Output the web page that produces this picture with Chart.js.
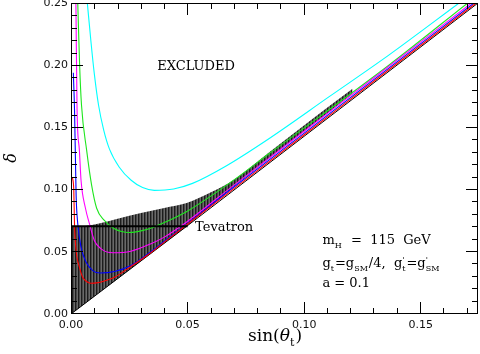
<!DOCTYPE html>
<html>
<head>
<meta charset="utf-8">
<script src="https://cdn.jsdelivr.net/npm/chart.js@4.4.0/dist/chart.umd.min.js"></script>
<style>
  body { margin: 0; background: #fff; }
  canvas { display: block; }
</style>
</head>
<body>
<canvas id="myChart" width="480" height="354"></canvas>
<script>
// axes: sin(theta_t) across, delta up
const xTicks = [0, 0.05, 0.1, 0.15];
const xMinor = [0.01, 0.02, 0.03, 0.04, 0.06, 0.07, 0.08, 0.09, 0.11, 0.12, 0.13, 0.14, 0.16, 0.17];
const yTicks = [0, 0.05, 0.1, 0.15, 0.2, 0.25];
const yMinor = [0.01, 0.02, 0.03, 0.04, 0.06, 0.07, 0.08, 0.09, 0.11, 0.12, 0.13, 0.14,
  0.16, 0.17, 0.18, 0.19, 0.21, 0.22, 0.23, 0.24];

// curves
const cyanS = [0.0070, 0.0085, 0.0100, 0.0118, 0.0140, 0.0165, 0.0207, 0.0258, 0.0307, 0.0357, 0.0440, 0.0521, 0.0665, 0.0850, 0.1107, 0.1364, 0.1664];
const cyanD = [0.250, 0.220, 0.193, 0.168, 0.148, 0.1325, 0.1180, 0.1075, 0.1016, 0.0994, 0.1005, 0.1050, 0.1190, 0.1411, 0.1747, 0.2083, 0.250];

const greenS = [0.0029, 0.0037, 0.0045, 0.0067, 0.0088, 0.0110, 0.0143, 0.0186, 0.0250, 0.0300, 0.0357, 0.0400, 0.0493, 0.0693, 0.0850, 0.1364, 0.1701];
const greenD = [0.250, 0.200, 0.168, 0.1317, 0.1040, 0.0850, 0.0752, 0.0685, 0.0655, 0.0668, 0.0700, 0.0735, 0.0820, 0.1070, 0.1290, 0.2002, 0.250];

const magentaS = [0.0021, 0.0026, 0.0036, 0.0043, 0.0062, 0.0079, 0.0100, 0.0129, 0.0179, 0.0257, 0.0343, 0.0400, 0.0496, 0.0700, 0.1000, 0.1300, 0.1717];
const magentaD = [0.250, 0.164, 0.1317, 0.1075, 0.0850, 0.0726, 0.0591, 0.0524, 0.0492, 0.0505, 0.0565, 0.0618, 0.0740, 0.1038, 0.1469, 0.1901, 0.250];

const blueS = [0.0010, 0.0015, 0.0019, 0.0022, 0.0029, 0.0043, 0.0065, 0.0093, 0.0125, 0.0186, 0.0257, 0.0329, 0.0400, 0.0496, 0.0700, 0.1000, 0.1300, 0.1728];
const blueD = [0.194, 0.165, 0.125, 0.095, 0.0726, 0.0537, 0.0416, 0.0349, 0.0329, 0.0341, 0.0390, 0.0482, 0.0585, 0.0722, 0.1023, 0.1454, 0.1886, 0.250];

const redS = [0.0006, 0.0012, 0.0015, 0.0022, 0.0036, 0.0050, 0.0072, 0.0086, 0.0110, 0.0129, 0.0186, 0.0257, 0.0329, 0.0400, 0.0496, 0.0700, 0.1000, 0.1300, 0.1737];
const redD = [0.110, 0.0994, 0.0726, 0.0510, 0.0376, 0.0295, 0.0255, 0.0247, 0.0250, 0.0257, 0.0295, 0.0382, 0.0474, 0.0578, 0.0717, 0.1010, 0.1441, 0.1873, 0.250];

// lower bound line and Tevatron limit
const lineS = [0, 0.0496, 0.1745];
const lineD = [0, 0.0705, 0.25];
const tevS = [0, 0.050];
const tevD = [0.0705, 0.0705];

// hatched allowed band
const bandS = [0, 0.006, 0.012, 0.02, 0.03, 0.04, 0.0496, 0.06, 0.07, 0.085, 0.10, 0.1207];
const bandTop = [0.0705, 0.0708, 0.0728, 0.0766, 0.0812, 0.0852, 0.0892, 0.0978, 0.1082, 0.1300, 0.1518, 0.1810];
const bandBottom = [0, 0.0085, 0.0171, 0.0284, 0.0426, 0.0569, 0.0705, 0.0870, 0.1028, 0.1250, 0.1470, 0.1772];

function pts(xs, ys) {
  return xs.map((x, i) => ({ x: x, y: ys[i] }));
}

const canvas = document.getElementById("myChart");
const ctx = canvas.getContext("2d");

function makeHatch() {
  const c = document.createElement("canvas");
  c.width = 3;
  c.height = 4;
  const g = c.getContext("2d");
  g.fillStyle = "#484848";
  g.fillRect(0, 0, 3, 4);
  g.fillStyle = "#1c1c1c";
  g.fillRect(0, 0, 1, 4);
  g.fillStyle = "#6a6a6a";
  g.fillRect(2, 0, 1, 4);
  return ctx.createPattern(c, "repeat");
}

function curve(xs, ys, color) {
  return {
    data: pts(xs, ys),
    borderColor: color,
    borderWidth: 1.1,
    fill: false,
    cubicInterpolationMode: "monotone",
    order: 1,
  };
}

const SERIF = "'DejaVu Serif', serif";

function partsWidth(c, parts, size) {
  let w = 0;
  for (const p of parts) {
    c.font = (p.it ? "italic " : "") + size + "px " + SERIF;
    w += c.measureText(p.t).width;
    const small = Math.round(size * 0.62);
    c.font = small + "px " + SERIF;
    let e = 0;
    if (p.sup) e = c.measureText(p.sup).width;
    if (p.sub) e = Math.max(e, c.measureText(p.sub).width);
    if (e) w += e + 1;
  }
  return w;
}

function drawParts(c, x, y, parts, size) {
  for (const p of parts) {
    c.font = (p.it ? "italic " : "") + size + "px " + SERIF;
    c.fillText(p.t, x, y);
    x += c.measureText(p.t).width;
    const small = Math.round(size * 0.62);
    c.font = small + "px " + SERIF;
    let e = 0;
    if (p.sup) {
      c.fillText(p.sup, x, y - size * 0.42);
      e = c.measureText(p.sup).width;
    }
    if (p.sub) {
      c.fillText(p.sub, x, y + size * 0.28);
      e = Math.max(e, c.measureText(p.sub).width);
    }
    if (e) x += e + 1;
  }
}

// frame with inward ticks on all four sides
const frame = {
  id: "frame",
  afterDraw(chart) {
    const c = chart.ctx;
    const sx = chart.scales.x;
    const sy = chart.scales.y;
    const L = Math.round(sx.left);
    const R = Math.round(sx.right) - 1;
    const T = Math.round(sy.top);
    const B = Math.round(sy.bottom) - 1;
    const px = (v) => Math.round(L + (v - sx.min) / (sx.max - sx.min) * (R - L));
    const py = (v) => Math.round(B - (v - sy.min) / (sy.max - sy.min) * (B - T));
    c.save();
    c.globalAlpha = 1;
    c.globalCompositeOperation = "source-over";
    c.fillStyle = "#000";
    c.fillRect(L, T, R - L + 1, 1);
    c.fillRect(L, B, R - L + 1, 1);
    c.fillRect(L, T, 1, B - T + 1);
    c.fillRect(R, T, 1, B - T + 1);
    xTicks.concat(xMinor).forEach((v) => {
      const len = xTicks.indexOf(v) >= 0 ? 11 : 5;
      const p = px(v);
      c.fillRect(p, B - len, 1, len);
      c.fillRect(p, T, 1, len + 1);
    });
    yTicks.concat(yMinor).forEach((v) => {
      const len = yTicks.indexOf(v) >= 0 ? 11 : 5;
      const p = py(v);
      c.fillRect(L, p, len + 1, 1);
      c.fillRect(R - len, p, len + 1, 1);
    });
    c.restore();
  },
};

const labels = {
  id: "labels",
  afterDraw(chart) {
    const c = chart.ctx;
    const sx = chart.scales.x;
    const sy = chart.scales.y;
    c.save();
    c.fillStyle = "#000";
    c.textBaseline = "middle";
    c.textAlign = "center";
    c.font = "13px " + SERIF;
    c.fillText("EXCLUDED", sx.getPixelForValue(0.0536), sy.getPixelForValue(0.199));
    c.textAlign = "left";
    c.fillText("Tevatron", sx.getPixelForValue(0.0532), sy.getPixelForValue(0.0695));

    c.textBaseline = "alphabetic";
    const ax = sx.getPixelForValue(0.1078);
    drawParts(c, ax, sy.getPixelForValue(0.0563), [{ t: "m", sub: "H" }, { t: "  =  115  GeV" }], 13);
    drawParts(c, ax, sy.getPixelForValue(0.0378), [
      { t: "g", sub: "t" }, { t: "=g", sub: "SM" }, { t: "/4,  g", sup: "'", sub: "t" }, { t: "=g", sup: "'", sub: "SM" },
    ], 13);
    drawParts(c, ax, sy.getPixelForValue(0.0217), [{ t: "a = 0.1" }], 13);

    // axis titles
    const title = [{ t: "sin(" }, { t: "θ", it: true, sub: "t" }, { t: ")" }];
    const tw = partsWidth(c, title, 17);
    drawParts(c, 275 - tw / 2, 341, title, 17);
    c.translate(12, 158);
    c.rotate(-Math.PI / 2);
    c.textAlign = "center";
    c.textBaseline = "middle";
    c.font = "italic 16px " + SERIF;
    c.fillText("δ", 0, 0);
    c.restore();
  },
};

const myChart = new Chart(ctx, {
  type: "line",
  data: {
    datasets: [
      { data: pts(bandS, bandBottom), borderWidth: 0, pointRadius: 0, fill: false, order: 5 },
      { data: pts(bandS, bandTop), borderWidth: 0, pointRadius: 0, fill: 0, backgroundColor: makeHatch(), cubicInterpolationMode: "monotone", order: 5 },
      { data: pts(tevS, tevD), borderColor: "#000", borderWidth: 2, fill: false, order: 0 },
      { data: pts(lineS, lineD), borderColor: "#000", borderWidth: 1, fill: false, order: 2 },
      curve(redS, redD, "#ff0000"),
      curve(blueS, blueD, "#0000ff"),
      curve(magentaS, magentaD, "#ff00ff"),
      curve(greenS, greenD, "#1ee61e"),
      curve(cyanS, cyanD, "#00ffff"),
    ],
  },
  options: {
    responsive: false,
    animation: false,
    devicePixelRatio: 1,
    layout: { padding: { top: 3, right: 2, bottom: 0, left: 0 } },
    plugins: { legend: { display: false }, tooltip: { enabled: false } },
    elements: { point: { radius: 0 } },
    scales: {
      x: {
        type: "linear",
        min: 0,
        max: 0.1745,
        grid: { display: false, drawTicks: false },
        border: { display: false },
        afterBuildTicks: (s) => { s.ticks = xTicks.map((v) => ({ value: v })); },
        afterFit: (s) => { s.height = 40; s.paddingLeft = 0; s.paddingRight = 0; },
        ticks: {
          callback: (v) => v.toFixed(2),
          padding: 5,
          autoSkip: false,
          maxRotation: 0,
          color: "#111",
          font: { family: "'DejaVu Sans', sans-serif", size: 11 },
        },
      },
      y: {
        type: "linear",
        min: 0,
        max: 0.25,
        grid: { display: false, drawTicks: false },
        border: { display: false },
        afterBuildTicks: (s) => { s.ticks = yTicks.map((v) => ({ value: v })); },
        afterFit: (s) => { s.width = 71; s.paddingTop = 0; s.paddingBottom = 0; },
        ticks: {
          callback: (v) => v.toFixed(2),
          padding: 3,
          autoSkip: false,
          color: "#111",
          font: { family: "'DejaVu Sans', sans-serif", size: 11 },
        },
      },
    },
  },
  plugins: [frame, labels],
});
</script>
</body>
</html>
